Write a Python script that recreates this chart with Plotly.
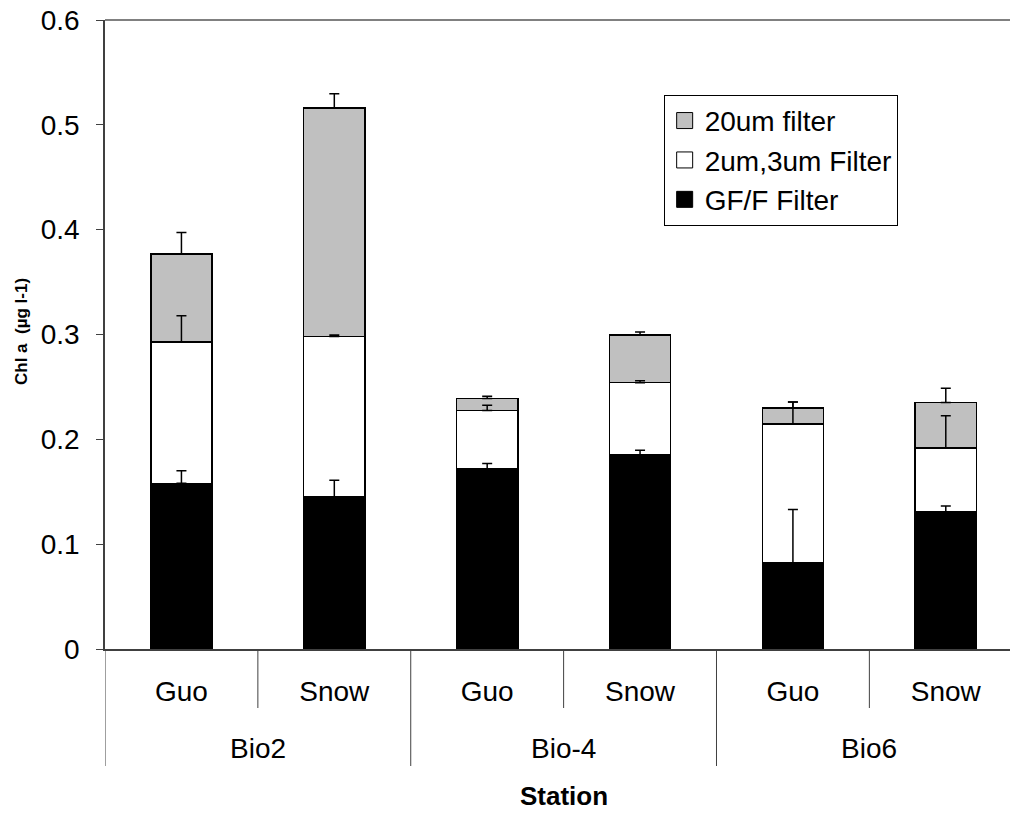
import numpy as np
import plotly.graph_objects as go

# ---- data ----
stations = ["Bio2", "Bio2", "Bio-4", "Bio-4", "Bio6", "Bio6"]
sources = ["Guo", "Snow", "Guo", "Snow", "Guo", "Snow"]

gff = [0.158, 0.145, 0.172, 0.185, 0.082, 0.131]
gff_err = [0.012, 0.016, 0.005, 0.0047, 0.051, 0.0055]

um2_3 = [0.135, 0.153, 0.0555, 0.069, 0.1325, 0.0606]
um2_3_err = [0.025, 0.0015, 0.005, 0.0018, 0.021, 0.031]

um20 = [0.084, 0.218, 0.0115, 0.0453, 0.0152, 0.0435]
um20_err = [0.0204, 0.0136, 0.002, 0.003, 0.0058, 0.0137]

series_names = ["GF/F Filter", "2um,3um Filter", "20um filter"]
y_ticks = [0, 0.1, 0.2, 0.3, 0.4, 0.5, 0.6]

FONT = "Liberation Sans, Arial, sans-serif"
AXC = "#404040"
x_idx = np.arange(len(sources))

fig = go.Figure()
series = [
    (series_names[0], gff, gff_err, "#000000"),
    (series_names[1], um2_3, um2_3_err, "#FFFFFF"),
    (series_names[2], um20, um20_err, "#C0C0C0"),
]
for name, vals, errs, col in series:
    fig.add_trace(go.Bar(
        x=x_idx, y=vals, name=name, showlegend=False,
        customdata=np.stack([stations, sources], axis=-1),
        hovertemplate="%{customdata[0]} %{customdata[1]}: %{y}<extra>" + name + "</extra>",
        marker=dict(color=col, line=dict(color="#000000", width=1.5)),
    ))

# error bars drawn at the top of each stacked segment, above all bars
tops = np.cumsum(np.array([gff, um2_3, um20]), axis=0)
for (name, vals, errs, col), top in zip(series, tops):
    fig.add_trace(go.Scatter(
        x=x_idx, y=top, mode="markers", showlegend=False, hoverinfo="skip",
        marker=dict(size=1, color="rgba(0,0,0,0)"),
        error_y=dict(type="data", array=errs, arrayminus=[0] * len(errs),
                     symmetric=False, color="#000000", thickness=1.5, width=5),
    ))

# legend entries (top to bottom)
for name, vals, errs, col in reversed(series):
    fig.add_trace(go.Scatter(
        x=[None], y=[None], mode="markers", name=name,
        showlegend=True, hoverinfo="skip",
        marker=dict(symbol="square", size=16, color=col,
                    line=dict(color="#000000", width=1)),
    ))

# ---- category axis decorations (station groups) ----
groups = []
for i, st in enumerate(stations):
    if not groups or groups[-1][0] != st:
        groups.append([st, i, i])
    else:
        groups[-1][2] = i

PLOT_H = 629.0
short_y = -59 / PLOT_H
long_y = -117 / PLOT_H
station_y = -99 / PLOT_H

shapes = []
annotations = []
for st, i0, i1 in groups:
    shapes.append(dict(type="line", xref="x", yref="paper", x0=i0 - 0.5, x1=i0 - 0.5,
                       y0=0, y1=long_y, line=dict(color=AXC, width=1)))
    for j in range(i0, i1):
        shapes.append(dict(type="line", xref="x", yref="paper", x0=j + 0.5, x1=j + 0.5,
                           y0=0, y1=short_y, line=dict(color=AXC, width=1)))
    annotations.append(dict(text=st, xref="x", yref="paper", x=(i0 + i1) / 2,
                            y=station_y, xanchor="center", yanchor="middle",
                            showarrow=False, font=dict(size=28, family=FONT)))
shapes.append(dict(type="line", xref="x", yref="paper", x0=groups[-1][2] + 0.5,
                   x1=groups[-1][2] + 0.5, y0=0, y1=long_y,
                   line=dict(color=AXC, width=1)))
# plot-area top border
shapes.append(dict(type="line", xref="paper", yref="paper", x0=0, x1=1, y0=1, y1=1,
                   line=dict(color="#808080", width=2)))

annotations += [
    dict(text="<b>Chl a  (µg l-1)</b>", xref="paper", yref="paper",
         x=-0.0917, y=0.504, xanchor="center", yanchor="middle",
         textangle=-90, showarrow=False, font=dict(size=17, family=FONT)),
    dict(text="<b>Station</b>", xref="paper", yref="paper",
         x=0.5069, y=-0.234, xanchor="center", yanchor="middle",
         showarrow=False, font=dict(size=26, family=FONT)),
]

fig.update_layout(
    width=1010, height=814,
    margin=dict(l=105, r=0, t=20, b=165),
    paper_bgcolor="white", plot_bgcolor="white",
    barmode="stack", bargap=0.6,
    font=dict(family=FONT, size=28, color="#000000"),
    legend=dict(x=0.6173, y=0.881, xanchor="left", yanchor="top",
                bordercolor="#000000", borderwidth=1, bgcolor="white",
                font=dict(size=28, family=FONT), tracegroupgap=0,
                itemsizing="trace", traceorder="normal"),
    xaxis=dict(range=[-0.5, 5.42], automargin=False,
               tickvals=x_idx, ticktext=sources,
               showline=True, linecolor=AXC, linewidth=1.5,
               ticks="", ticklabelstandoff=17, ticklabeloverflow="allow",
               tickfont=dict(size=28, family=FONT), showgrid=False, zeroline=False),
    yaxis=dict(range=[0, 0.6], tickvals=y_ticks, automargin=False,
               ticktext=[("%g" % v) for v in y_ticks],
               showline=True, linecolor=AXC, linewidth=1.5,
               ticks="outside", ticklen=7, tickcolor=AXC,
               tickfont=dict(size=28, family=FONT), showgrid=False,
               zeroline=False, ticklabelstandoff=11, ticklabeloverflow="allow"),
    shapes=shapes,
    annotations=annotations,
)

fig.write_html(
    "out.html",
    config={"displayModeBar": False},
    post_script="document.body.style.margin='0';document.body.style.overflow='hidden';",
)
